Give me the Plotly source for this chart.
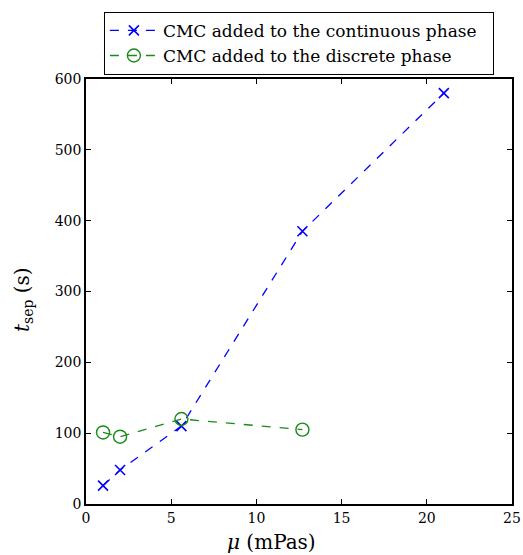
import plotly.graph_objects as go

mu_cont = [1, 2, 5.6, 12.7, 21]
t_cont = [26, 48, 110, 385, 580]
mu_disc = [1, 2, 5.6, 12.7]
t_disc = [101, 95, 120, 105]

font = "DejaVu Serif, Liberation Serif, serif"

fig = go.Figure()
fig.add_trace(go.Scatter(x=mu_cont, y=t_cont, mode="lines+markers",
                         name="CMC added to the continuous phase&nbsp;&nbsp;",
                         line=dict(color="#0000ff", dash="dash", width=1.3),
                         marker=dict(symbol="x-thin", size=10, line=dict(color="#0000ff", width=1.6))))
fig.add_trace(go.Scatter(x=mu_disc, y=t_disc, mode="lines+markers",
                         name="CMC added to the discrete phase",
                         line=dict(color="#1a8a1a", dash="dash", width=1.3),
                         marker=dict(symbol="circle-open", size=13, color="#1a8a1a", line=dict(width=1.4))))

axis_common = dict(showgrid=False, zeroline=False, showline=True, linecolor="black", linewidth=1.5,
                   mirror="ticks", ticks="inside", ticklen=5, tickcolor="black", automargin=False,
                   tickfont=dict(family=font, size=14, color="black"))
fig.update_layout(
    width=523, height=555,
    margin=dict(l=86, r=11, t=79, b=51, autoexpand=False),
    plot_bgcolor="white", paper_bgcolor="white",
    font=dict(family=font, color="black"),
    xaxis=dict(range=[0, 25], dtick=5, **axis_common),
    yaxis=dict(range=[0, 600], dtick=100, **axis_common),
    legend=dict(x=0.042, y=1.158, xanchor="left", yanchor="top", bordercolor="black", borderwidth=1,
                bgcolor="white", font=dict(family=font, size=17, color="black"), tracegroupgap=0,
                itemwidth=48),
    showlegend=True,
    annotations=[
        dict(text="<i>μ</i> (mPas)", xref="paper", yref="paper", x=0.435, y=-0.089,
             xanchor="center", yanchor="middle", showarrow=False, font=dict(size=20)),
        dict(text="<i>t</i><sub>sep</sub> (s)", xref="paper", yref="paper", x=-0.148, y=0.482,
             xanchor="center", yanchor="middle", showarrow=False, textangle=-90, font=dict(size=20)),
    ],
)
fig.write_html("out.html", config={"displayModeBar": False},
               post_script="document.body.style.margin='0';")
